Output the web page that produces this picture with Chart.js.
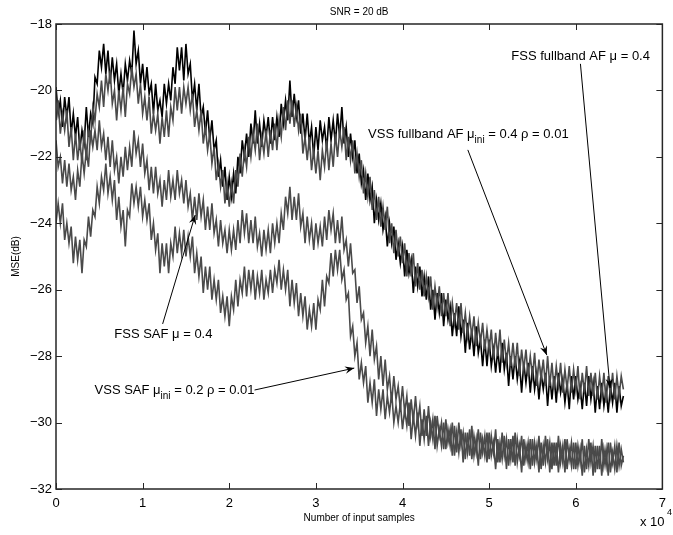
<!DOCTYPE html>
<html>
<head>
<meta charset="utf-8">
<script src="https://cdn.jsdelivr.net/npm/chart.js@4.4.1/dist/chart.umd.min.js"></script>
<style>
  html, body { margin: 0; padding: 0; background: #fff; }
  canvas { display: block; }
</style>
</head>
<body>
<canvas id="mse" width="673" height="535"></canvas>
<script>
// one value every 250 input samples, x is in units of 10^4 samples
const sampleStep = 0.025;
const xTicks = [0, 1, 2, 3, 4, 5, 6, 7];
const yTicks = [-32, -30, -28, -26, -24, -22, -20, -18];

// FSS fullband AF mu = 0.4 (black)
const fssFullband = [
  -19.9,-20.7,-20.3,-21.1,-20.2,-20.8,-20.2,-21.3,-20.7,-21.4,
  -20.8,-21.8,-21.2,-21.6,-20.5,-21.4,-20.7,-21.0,-19.6,-19.8,
  -18.8,-19.3,-18.6,-19.5,-18.8,-19.8,-19.0,-19.7,-19.2,-20.1,
  -19.5,-20.1,-19.2,-19.7,-19.1,-19.5,-18.2,-19.2,-18.8,-19.8,
  -19.2,-20.0,-19.3,-20.1,-19.8,-20.7,-19.8,-20.6,-20.3,-20.8,
  -19.8,-20.4,-19.8,-20.3,-19.3,-19.8,-18.7,-19.4,-18.7,-19.7,
  -18.6,-19.5,-19.2,-20.3,-19.8,-20.6,-19.8,-20.8,-20.5,-21.3,
  -20.6,-21.5,-20.9,-21.8,-21.5,-22.6,-22.1,-22.9,-22.3,-23.3,
  -22.6,-23.2,-22.5,-23.1,-22.0,-22.5,-21.5,-22.0,-21.3,-22.0,
  -21.0,-21.6,-20.6,-21.6,-21.0,-21.7,-20.9,-21.4,-20.8,-21.6,
  -20.8,-21.5,-20.8,-21.4,-20.4,-21.0,-20.3,-20.9,-19.7,-20.8,
  -20.1,-20.8,-20.3,-21.3,-20.7,-21.5,-20.7,-21.6,-21.1,-22.0,
  -21.1,-21.8,-20.9,-21.5,-21.1,-21.8,-20.8,-21.5,-20.9,-21.6,
  -20.7,-21.4,-20.5,-21.6,-21.1,-22.0,-21.3,-22.0,-21.5,-22.5,
  -21.9,-22.8,-22.4,-23.3,-22.5,-23.3,-22.9,-24.0,-23.3,-23.9,
  -23.4,-24.2,-23.8,-24.7,-24.0,-24.6,-24.1,-25.1,-24.6,-25.2,
  -24.7,-25.6,-24.8,-25.5,-25.1,-26.1,-25.3,-25.9,-25.3,-26.2,
  -25.6,-26.3,-25.6,-26.6,-26.0,-26.9,-26.1,-26.7,-26.1,-27.1,
  -26.3,-26.9,-26.5,-27.4,-26.7,-27.4,-26.5,-27.4,-26.9,-27.9,
  -27.0,-27.8,-27.2,-28.0,-27.1,-27.9,-27.5,-28.3,-27.5,-28.3,
  -27.5,-28.3,-27.8,-28.5,-27.8,-28.5,-27.6,-28.4,-27.9,-28.9,
  -28.0,-28.7,-28.0,-28.7,-28.2,-29.1,-28.2,-28.8,-28.2,-29.1,
  -28.3,-29.0,-28.5,-29.3,-28.5,-29.0,-28.5,-29.5,-28.6,-29.3,
  -28.6,-29.4,-28.5,-29.1,-28.7,-29.4,-28.8,-29.6,-28.6,-29.3,
  -28.6,-29.3,-28.9,-29.6,-28.8,-29.5,-28.6,-29.3,-28.8,-29.7,
  -28.9,-29.6,-28.8,-29.5,-29.0,-29.7,-28.9,-29.4,-28.8,-29.7,
  -28.9,-29.5,-29.2
];
// VSS fullband AF mu_ini = 0.4 rho = 0.01
const vssFullband = [
  -20.9,-20.3,-21.3,-20.7,-21.2,-20.6,-21.7,-21.1,-22.1,-21.3,
  -22.1,-21.5,-22.2,-21.2,-22.1,-21.2,-21.5,-20.5,-20.9,-20.1,
  -20.5,-19.7,-20.5,-19.5,-20.0,-19.4,-20.4,-20.0,-20.9,-20.0,
  -20.6,-19.9,-20.8,-19.8,-20.1,-19.3,-19.9,-19.5,-20.4,-19.8,
  -20.7,-20.2,-20.9,-20.2,-21.3,-20.7,-21.2,-20.7,-21.6,-20.8,
  -21.4,-20.6,-21.4,-20.5,-20.9,-19.9,-20.6,-19.9,-20.7,-19.9,
  -20.4,-19.9,-20.6,-20.1,-21.1,-20.6,-21.2,-20.6,-21.6,-21.1,
  -21.8,-21.3,-22.2,-21.7,-22.7,-22.2,-22.9,-22.4,-23.4,-22.8,
  -23.5,-22.8,-23.4,-22.4,-22.9,-21.9,-22.6,-21.8,-22.3,-21.4,
  -22.0,-21.3,-21.8,-21.0,-22.1,-21.4,-21.9,-21.2,-22.0,-21.2,
  -21.8,-21.0,-21.8,-20.9,-21.4,-20.5,-21.2,-20.3,-21.0,-20.3,
  -21.1,-20.5,-21.2,-20.7,-21.9,-21.4,-22.1,-21.4,-22.4,-21.8,
  -22.5,-21.8,-22.7,-21.8,-22.3,-21.5,-22.4,-21.6,-22.3,-21.3,
  -22.0,-21.2,-21.7,-21.1,-22.1,-21.4,-22.1,-21.5,-22.5,-21.9,
  -22.6,-22.1,-23.1,-22.5,-23.2,-22.6,-23.6,-23.0,-23.9,-23.2,
  -24.1,-23.5,-24.2,-23.5,-24.6,-24.0,-24.9,-24.2,-25.0,-24.4,
  -25.2,-24.6,-25.6,-24.9,-25.6,-24.9,-25.9,-25.2,-26.0,-25.4,
  -26.2,-25.6,-26.2,-25.6,-26.6,-25.9,-26.5,-25.9,-26.8,-26.1,
  -26.8,-26.1,-27.1,-26.4,-27.0,-26.4,-27.2,-26.4,-27.3,-26.7,
  -27.4,-26.8,-27.4,-26.8,-27.7,-27.0,-27.6,-27.0,-27.8,-27.2,
  -27.8,-27.2,-28.1,-27.3,-28.0,-27.2,-28.2,-27.5,-28.2,-27.6,
  -28.3,-27.6,-28.3,-27.6,-28.6,-27.8,-28.4,-27.8,-28.6,-28.0,
  -28.6,-27.9,-28.9,-28.1,-28.7,-28.1,-28.9,-28.0,-28.9,-28.2,
  -29.0,-28.3,-28.9,-28.2,-29.1,-28.4,-29.0,-28.3,-29.1,-28.4,
  -29.0,-28.3,-29.3,-28.5,-29.1,-28.3,-29.2,-28.5,-29.2,-28.5,
  -29.3,-28.6,-29.2,-28.5,-29.4,-28.6,-29.2,-28.5,-29.3,-28.6,
  -29.2,-28.6,-29.0
];
// FSS SAF mu = 0.4
const fssSaf = [
  -21.5,-22.3,-22.0,-22.8,-22.1,-22.9,-22.2,-23.0,-22.6,-23.3,
  -22.4,-22.9,-21.9,-22.5,-21.8,-22.3,-21.2,-21.7,-21.2,-21.8,
  -20.9,-21.7,-21.3,-22.1,-21.4,-22.3,-21.5,-22.4,-22.0,-22.8,
  -22.0,-22.6,-21.7,-22.4,-21.7,-22.3,-21.2,-21.9,-21.5,-22.3,
  -21.6,-22.5,-22.1,-23.0,-22.3,-23.1,-22.3,-23.1,-22.7,-23.5,
  -22.7,-23.3,-22.4,-23.2,-22.7,-23.3,-22.4,-23.1,-22.7,-23.4,
  -22.7,-23.5,-23.1,-23.9,-23.2,-23.9,-23.1,-23.8,-23.3,-24.2,
  -23.5,-24.2,-23.4,-24.3,-23.9,-24.7,-23.9,-24.6,-24.2,-24.9,
  -24.2,-24.8,-24.2,-24.8,-23.9,-24.6,-23.6,-24.3,-23.7,-24.6,
  -23.9,-24.6,-23.8,-24.7,-24.3,-25.0,-24.2,-24.8,-24.2,-24.9,
  -24.0,-24.6,-24.0,-24.6,-23.7,-24.2,-23.2,-23.7,-22.9,-23.9,
  -23.2,-23.9,-23.1,-24.1,-23.7,-24.6,-23.8,-24.5,-24.0,-24.8,
  -24.0,-24.6,-24.1,-24.7,-23.8,-24.5,-23.6,-24.2,-23.7,-24.6,
  -23.9,-24.6,-23.8,-24.8,-24.5,-25.3,-24.6,-25.5,-25.4,-26.4,
  -25.9,-26.9,-26.7,-27.6,-27.1,-28.0,-27.2,-28.1,-27.7,-28.7,
  -28.0,-28.9,-28.1,-29.0,-28.6,-29.4,-28.6,-29.3,-28.9,-29.6,
  -28.9,-29.7,-29.2,-30.1,-29.3,-30.0,-29.2,-30.0,-29.5,-30.4,
  -29.6,-30.4,-29.5,-30.4,-29.9,-30.8,-29.8,-30.4,-30.0,-30.8,
  -29.9,-30.6,-30.2,-31.0,-30.1,-30.9,-30.0,-30.7,-30.3,-31.1,
  -30.3,-31.0,-30.1,-31.0,-30.5,-31.3,-30.3,-30.9,-30.4,-31.2,
  -30.3,-31.0,-30.6,-31.4,-30.5,-31.2,-30.3,-31.0,-30.5,-31.3,
  -30.5,-31.2,-30.3,-31.2,-30.7,-31.5,-30.5,-31.1,-30.6,-31.4,
  -30.5,-31.2,-30.7,-31.5,-30.6,-31.3,-30.4,-31.1,-30.6,-31.4,
  -30.6,-31.3,-30.4,-31.2,-30.7,-31.5,-30.5,-31.1,-30.6,-31.4,
  -30.6,-31.3,-30.8,-31.6,-30.7,-31.4,-30.5,-31.2,-30.7,-31.5,
  -30.7,-31.4,-30.5,-31.3,-30.8,-31.6,-30.6,-31.2,-30.7,-31.5,
  -30.6,-31.3,-31.0
];
// VSS SAF mu_ini = 0.2 rho = 0.01
const vssSaf = [
  -24.0,-23.4,-24.0,-23.4,-24.5,-24.0,-24.6,-24.1,-25.2,-24.4,
  -25.1,-24.5,-25.5,-24.5,-24.7,-23.8,-24.4,-23.6,-23.8,-22.9,
  -23.4,-22.6,-23.0,-22.2,-23.1,-22.6,-23.3,-22.7,-23.9,-23.2,
  -24.1,-23.6,-24.7,-23.6,-23.8,-22.8,-23.4,-22.9,-23.5,-22.9,
  -23.8,-23.3,-23.9,-23.4,-24.5,-24.0,-24.8,-24.3,-25.5,-24.6,
  -25.3,-24.6,-25.5,-24.6,-25.0,-24.1,-24.9,-24.3,-24.9,-24.2,
  -25.0,-24.4,-25.0,-24.4,-25.5,-24.9,-25.6,-25.0,-26.1,-25.3,
  -26.0,-25.3,-26.3,-25.7,-26.3,-25.7,-26.7,-26.2,-26.8,-26.2,
  -27.1,-26.2,-26.6,-25.7,-26.5,-25.7,-26.1,-25.3,-26.2,-25.4,
  -26.0,-25.4,-26.3,-25.6,-26.1,-25.4,-26.3,-25.7,-26.1,-25.4,
  -26.1,-25.4,-25.8,-25.1,-26.0,-25.4,-26.0,-25.4,-26.5,-25.7,
  -26.4,-25.8,-26.8,-26.1,-26.8,-26.2,-27.2,-26.6,-27.1,-26.4,
  -27.2,-26.3,-26.6,-25.7,-26.5,-25.6,-25.8,-24.9,-25.6,-24.8,
  -25.4,-24.8,-25.7,-25.4,-26.3,-26.1,-27.4,-27.1,-28.0,-27.6,
  -28.7,-28.2,-28.8,-28.3,-29.4,-28.8,-29.4,-28.7,-29.8,-29.0,
  -29.6,-29.0,-29.9,-29.2,-29.7,-29.1,-30.0,-29.5,-30.0,-29.4,
  -30.2,-29.6,-30.1,-29.4,-30.5,-29.8,-30.4,-29.7,-30.7,-29.9,
  -30.5,-29.8,-30.7,-30.0,-30.5,-29.8,-30.7,-30.2,-30.7,-30.0,
  -30.8,-30.2,-30.7,-30.0,-31.0,-30.3,-30.9,-30.2,-31.2,-30.3,
  -30.9,-30.2,-31.1,-30.4,-30.9,-30.2,-31.1,-30.5,-31.0,-30.3,
  -31.1,-30.4,-30.9,-30.2,-31.2,-30.6,-31.1,-30.4,-31.4,-30.5,
  -31.1,-30.4,-31.3,-30.5,-31.0,-30.4,-31.3,-30.7,-31.2,-30.5,
  -31.3,-30.6,-31.1,-30.4,-31.4,-30.7,-31.2,-30.5,-31.5,-30.6,
  -31.3,-30.6,-31.5,-30.7,-31.2,-30.5,-31.4,-30.8,-31.3,-30.6,
  -31.4,-30.7,-31.2,-30.5,-31.5,-30.8,-31.3,-30.6,-31.6,-30.7,
  -31.4,-30.7,-31.6,-30.8,-31.3,-30.6,-31.5,-30.9,-31.4,-30.7,
  -31.3,-30.8,-31.2
];

// labels with arrows, in data units (text anchor = left/baseline)
const notes = [
  { parts: [['FSS fullband AF '], ['\u03bc'], [' = 0.4']], text: [5.256, -19.08], from: [6.054, -19.20], tip: [6.396, -28.96] },
  { parts: [['VSS fullband AF '], ['\u03bc'], ['ini', 1], [' = 0.4 \u03c1 = 0.01']], text: [3.603, -21.43], from: [4.754, -21.79], tip: [5.666, -27.97] },
  { parts: [['FSS SAF '], ['\u03bc'], [' = 0.4']], text: [0.673, -27.45], from: [1.231, -27.03], tip: [1.607, -23.75] },
  { parts: [['VSS SAF '], ['\u03bc'], ['ini', 1], [' = 0.2 \u03c1 = 0.01']], text: [0.445, -29.14], from: [2.292, -29.02], tip: [3.443, -28.36] }
];

const FONT = '"Liberation Sans", Arial, Helvetica, sans-serif';
const toPoints = arr => arr.map((v, i) => ({ x: +(i * sampleStep).toFixed(3), y: v }));

function drawParts(ctx, parts, x, y) {
  parts.forEach(([t, sub]) => {
    ctx.font = (sub ? '10px ' : '13px ') + FONT;
    ctx.fillText(t, x, sub ? y + 5 : y);
    x += ctx.measureText(t).width;
  });
}

function arrow(ctx, x0, y0, x1, y1) {
  ctx.beginPath();
  ctx.moveTo(x0, y0);
  ctx.lineTo(x1, y1);
  ctx.stroke();
  const ang = Math.atan2(y1 - y0, x1 - x0);
  const len = 10, spread = 0.38;
  ctx.beginPath();
  ctx.moveTo(x1, y1);
  ctx.lineTo(x1 - len * Math.cos(ang - spread), y1 - len * Math.sin(ang - spread));
  ctx.lineTo(x1 - 6 * Math.cos(ang), y1 - 6 * Math.sin(ang));
  ctx.lineTo(x1 - len * Math.cos(ang + spread), y1 - len * Math.sin(ang + spread));
  ctx.closePath();
  ctx.fill();
}

const frame = {
  id: 'frame',
  afterDraw(chart) {
    const { ctx, chartArea: a, scales: { x, y } } = chart;
    ctx.save();
    // box + inward ticks like matlab
    ctx.strokeStyle = '#262626';
    ctx.lineWidth = 1.5;
    ctx.strokeRect(a.left, a.top, a.right - a.left, a.bottom - a.top);
    ctx.lineWidth = 1;
    ctx.beginPath();
    xTicks.forEach(v => {
      const px = Math.round(x.getPixelForValue(v)) + 0.5;
      ctx.moveTo(px, a.bottom); ctx.lineTo(px, a.bottom - 6);
      ctx.moveTo(px, a.top); ctx.lineTo(px, a.top + 6);
    });
    yTicks.forEach(v => {
      const py = Math.round(y.getPixelForValue(v)) + 0.5;
      ctx.moveTo(a.left, py); ctx.lineTo(a.left + 6, py);
      ctx.moveTo(a.right, py); ctx.lineTo(a.right - 6, py);
    });
    ctx.stroke();

    ctx.fillStyle = '#000';
    ctx.textBaseline = 'middle';
    ctx.textAlign = 'center';
    ctx.font = '10px ' + FONT;
    ctx.fillText('SNR = 20 dB', (a.left + a.right) / 2, 12);
    ctx.fillText('Number of input samples', (a.left + a.right) / 2, 518);
    ctx.save();
    ctx.translate(16, (a.top + a.bottom) / 2);
    ctx.rotate(-Math.PI / 2);
    ctx.fillText('MSE(dB)', 0, 0);
    ctx.restore();

    ctx.textAlign = 'left';
    ctx.textBaseline = 'alphabetic';
    ctx.font = '13px ' + FONT;
    ctx.fillText('x 10', 640, 526);
    ctx.font = '9px ' + FONT;
    ctx.fillText('4', 667, 515);

    // annotations
    ctx.strokeStyle = '#000';
    ctx.lineWidth = 1;
    notes.forEach(n => {
      drawParts(ctx, n.parts, x.getPixelForValue(n.text[0]), y.getPixelForValue(n.text[1]));
      arrow(ctx,
        x.getPixelForValue(n.from[0]), y.getPixelForValue(n.from[1]),
        x.getPixelForValue(n.tip[0]), y.getPixelForValue(n.tip[1]));
    });
    ctx.restore();
  }
};

const gray = '#4a4a4a';
const line = (label, data, color, order) => ({
  label, data: toPoints(data), borderColor: color, borderWidth: 1.6,
  pointRadius: 0, tension: 0, fill: false, order
});

new Chart(document.getElementById('mse'), {
  type: 'line',
  data: {
    datasets: [
      line('VSS fullband AF', vssFullband, gray, 1),
      line('FSS fullband AF', fssFullband, '#000', 2),
      line('FSS SAF', fssSaf, gray, 3),
      line('VSS SAF', vssSaf, gray, 4)
    ]
  },
  options: {
    responsive: false,
    animation: false,
    devicePixelRatio: 1,
    events: [],
    layout: { padding: { left: 0, right: 3, top: 24, bottom: 0 } },
    plugins: { legend: { display: false }, tooltip: { enabled: false } },
    scales: {
      x: {
        type: 'linear', min: 0, max: 7,
        grid: { display: false, drawTicks: false },
        border: { display: false },
        afterBuildTicks: s => { s.ticks = xTicks.map(v => ({ value: v })); },
        afterFit: s => { s.height = 46; },
        ticks: { padding: 7, color: '#000', maxRotation: 0, font: { size: 13, family: FONT } }
      },
      y: {
        min: -32, max: -18,
        grid: { display: false, drawTicks: false },
        border: { display: false },
        afterBuildTicks: s => { s.ticks = yTicks.map(v => ({ value: v })); },
        afterFit: s => { s.width = 56; },
        ticks: {
          padding: 4, color: '#000', font: { size: 13, family: FONT },
          callback: v => String(v).replace('-', '\u2212')
        }
      }
    }
  },
  plugins: [frame]
});
</script>
</body>
</html>
